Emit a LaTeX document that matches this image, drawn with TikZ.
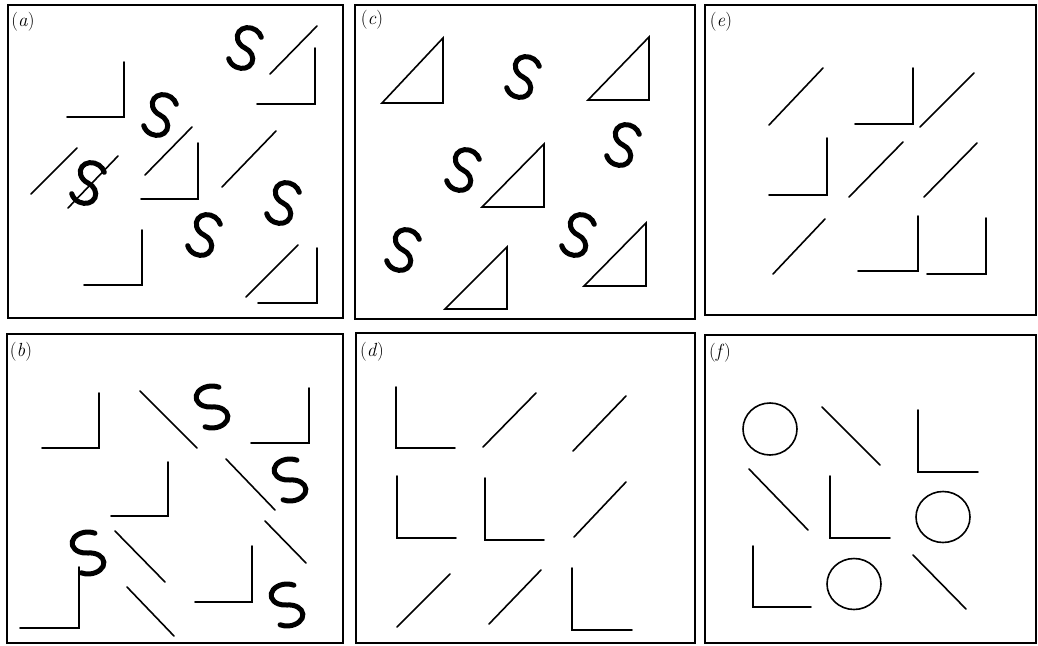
\documentclass[tikz,border=0pt]{standalone}
\tikzset{
  frame/.style={line width=1.6pt},
  ln/.style={line width=1.6pt, line cap=round, line join=miter},
  sstroke/.style={line width=5pt, line cap=round},
  lbl/.style={font=\fontsize{19}{21}\selectfont, inner sep=0pt}
}
% S glyph: x, y, rotation, x radius, y radius, start angle
\newcommand\Sg[6]{%
  \begin{scope}[shift={(#1,#2)}, rotate=#3]
    \draw[sstroke] ({#4*cos(#6)},{#5+#5*sin(#6)})
      arc[start angle=#6, end angle=270, x radius=#4, y radius=#5]
      arc[start angle=90, end angle={-180+#6}, x radius=#4, y radius=#5];
  \end{scope}}
\begin{document}
\begin{tikzpicture}[x=1pt,y=1pt]
\useasboundingbox (0,0) rectangle (1038,-645);
% frames
\draw[frame] (8,-5) rectangle (343,-318);
\draw[frame] (355,-5) rectangle (695,-319);
\draw[frame] (705,-5) rectangle (1036,-315);
\draw[frame] (7,-334) rectangle (343,-643);
\draw[frame] (356,-333) rectangle (695,-643);
\draw[frame] (705,-335) rectangle (1036,-643);
% labels
\node[lbl] (la) at (23,-22) {(\textit{a})};
\node[lbl] (lc) at (372,-20) {(\textit{c})};
\node[lbl] (le) at (721,-22) {(\textit{e})};
\node[lbl] (lb) at (21,-352) {(\textit{b})};
\node[lbl] (ld) at (372,-352) {(\textit{d})};
\node[lbl] (lf) at (720,-353) {(\textit{f})};

% ---------- panel (a)
\draw[ln] (67,-117) -- (124,-117) -- (124,-62);
\draw[ln] (270,-74) -- (317,-26);
\draw[ln] (257,-104) -- (315,-104) -- (315,-48);
\draw[ln] (145,-175) -- (192,-127);
\draw[ln] (141,-199) -- (198,-199) -- (198,-143);
\draw[ln] (31,-194) -- (77,-148);
\draw[ln] (222,-187) -- (276,-131);
\draw[ln] (84,-285) -- (142,-285) -- (142,-230);
\draw[ln] (246,-297) -- (298,-245);
\draw[ln] (258,-303) -- (317,-303) -- (317,-248);
\Sg{245}{-48}{-25}{12.5}{10.5}{35}
\Sg{160}{-115}{-25}{12.5}{10.5}{35}
\Sg{88}{-183}{-25}{12.5}{10.5}{35}
\Sg{204}{-235}{-25}{12.5}{10.5}{35}
\Sg{283}{-203}{-25}{12.5}{10.5}{35}
\draw[ln] (68,-208) -- (118,-156);

% ---------- panel (c)
\draw[ln] (382,-103) -- (443,-103) -- (443,-38) -- cycle;
\draw[ln] (588,-100) -- (649,-100) -- (649,-37) -- cycle;
\draw[ln] (482,-207) -- (544,-207) -- (544,-144) -- cycle;
\draw[ln] (445,-309) -- (507,-309) -- (507,-247) -- cycle;
\draw[ln] (584,-286) -- (646,-286) -- (646,-223) -- cycle;
\Sg{523}{-77}{-25}{12.5}{10.5}{35}
\Sg{623}{-145}{-25}{12.5}{10.5}{35}
\Sg{463}{-170}{-25}{12.5}{10.5}{35}
\Sg{403}{-250}{-25}{12.5}{10.5}{35}
\Sg{578}{-235}{-25}{12.5}{10.5}{35}

% ---------- panel (e)
\draw[ln] (769,-125) -- (823,-68);
\draw[ln] (855,-124) -- (913,-124) -- (913,-68);
\draw[ln] (920,-127) -- (974,-73);
\draw[ln] (769,-195) -- (827,-195) -- (827,-138);
\draw[ln] (849,-197) -- (903,-142);
\draw[ln] (924,-197) -- (977,-143);
\draw[ln] (773,-274) -- (825,-219);
\draw[ln] (858,-271) -- (918,-271) -- (918,-216);
\draw[ln] (927,-274) -- (986,-274) -- (986,-218);

% ---------- panel (b)
\draw[ln] (42,-448) -- (99,-448) -- (99,-393);
\draw[ln] (140,-391) -- (197,-448);
\draw[ln] (251,-443) -- (309,-443) -- (309,-388);
\draw[ln] (226,-459) -- (275,-510);
\draw[ln] (111,-516) -- (168,-516) -- (168,-462);
\draw[ln] (265,-521) -- (306,-563);
\draw[ln] (115,-531) -- (165,-582);
\draw[ln] (20,-628) -- (79,-628) -- (79,-567);
\draw[ln] (127,-587) -- (174,-636);
\draw[ln] (195,-602) -- (252,-602) -- (252,-546);
\Sg{212}{-407}{5}{15}{10.5}{55}
\Sg{290}{-480}{5}{15}{10.5}{55}
\Sg{88}{-553}{5}{15}{10.5}{55}
\Sg{287}{-605}{5}{15}{10.5}{55}

% ---------- panel (d)
\draw[ln] (396,-387) -- (396,-448) -- (455,-448);
\draw[ln] (483,-447) -- (536,-393);
\draw[ln] (573,-451) -- (626,-396);
\draw[ln] (397,-476) -- (397,-538) -- (456,-538);
\draw[ln] (485,-478) -- (485,-540) -- (544,-540);
\draw[ln] (574,-537) -- (626,-482);
\draw[ln] (397,-627) -- (450,-574);
\draw[ln] (489,-624) -- (541,-570);
\draw[ln] (572,-568) -- (572,-630) -- (632,-630);

% ---------- panel (f)
\draw[ln] (770,-429) ellipse [x radius=27, y radius=26];
\draw[ln] (822,-407) -- (880,-465);
\draw[ln] (918,-410) -- (918,-472) -- (978,-472);
\draw[ln] (749,-469) -- (808,-530);
\draw[ln] (830,-476) -- (830,-538) -- (890,-538);
\draw[ln] (943,-517) ellipse [x radius=27, y radius=25.5];
\draw[ln] (753,-546) -- (753,-607) -- (811,-607);
\draw[ln] (854,-584) ellipse [x radius=27, y radius=25.5];
\draw[ln] (913,-555) -- (966,-609);
\end{tikzpicture}
\end{document}
